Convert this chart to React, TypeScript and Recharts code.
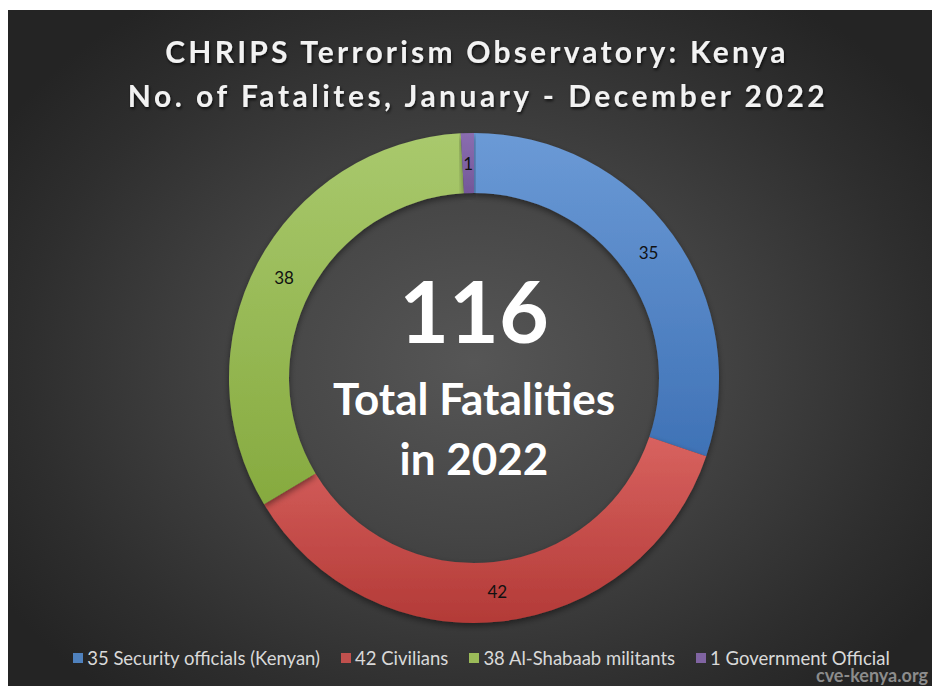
import React from 'react';
import { PieChart, Pie, Cell, Legend } from 'recharts';

const categories = ['Security officials (Kenyan)', 'Civilians', 'Al-Shabaab militants', 'Government Official'];
const fatalities = [35, 42, 38, 1];
const sliceColors = ['#4f81bd', '#c0504d', '#9bbb59', '#8064a2'];
const gradientStops = [
  ['#6b9ad6', '#3f72b6'],
  ['#d8625f', '#b33a37'],
  ['#a9c96d', '#86aa3f'],
  ['#8a6db0', '#735799'],
];

const titleLines = ['CHRIPS Terrorism Observatory: Kenya', 'No. of Fatalites, January - December 2022'];
const centerLines = ['Total Fatalities', 'in 2022'];

const total = fatalities.reduce((a, b) => a + b, 0);
const data = categories.map((name, i) => ({ name, value: fatalities[i] }));

const W = 933;
const H = 676;
const CX = 467;
const CY = 368;
const FONT = 'Lato, "Open Sans", sans-serif';

const RAD = Math.PI / 180;

function renderLabel(props: any) {
  const { cx, cy, midAngle, innerRadius, outerRadius, value } = props;
  const r = (innerRadius + outerRadius) / 2;
  const x = cx + r * Math.cos(-midAngle * RAD);
  const y = cy + r * Math.sin(-midAngle * RAD);
  return (
    <text x={x} y={y} textAnchor="middle" dominantBaseline="central" fill="#111" fontSize={17} fontFamily={FONT}>
      {value}
    </text>
  );
}

function LegendRow() {
  return (
    <div
      style={{
        display: 'flex',
        justifyContent: 'center',
        gap: 21,
        fontFamily: FONT,
        fontSize: 18.5,
        color: '#d9d9d9',
        paddingLeft: 16,
      }}
    >
      {data.map((d, i) => (
        <span key={d.name} style={{ display: 'flex', alignItems: 'center' }}>
          <span style={{ width: 10, height: 10, background: sliceColors[i], marginRight: 4, display: 'inline-block' }} />
          {d.value} {d.name}
        </span>
      ))}
    </div>
  );
}

export default function App() {
  return (
    <div
      style={{
        position: 'relative',
        width: W,
        height: H,
        marginLeft: -1,
        marginTop: 2,
        background: 'radial-gradient(ellipse 60% 65% at 50% 52%, #565656 0%, #454545 40%, #2e2e2e 80%, #242424 100%)',
      }}
    >
      <PieChart width={W} height={H} margin={{ top: 0, right: 0, bottom: 0, left: 0 }}>
        <defs>
          {gradientStops.map((g, i) => (
            <linearGradient key={i} id={`grad${i}`} x1="0" y1="0" x2="0" y2="1">
              <stop offset="0%" stopColor={g[0]} />
              <stop offset="100%" stopColor={g[1]} />
            </linearGradient>
          ))}
          <filter id="ringShadow" x="-10%" y="-10%" width="120%" height="120%">
            <feDropShadow dx="0" dy="3" stdDeviation="3" floodColor="#000" floodOpacity="0.45" />
          </filter>
          <filter id="txtShadow" x="-5%" y="-20%" width="110%" height="150%">
            <feDropShadow dx="1" dy="2" stdDeviation="1.5" floodColor="#000" floodOpacity="0.7" />
          </filter>
        </defs>
        <Pie
          data={data}
          dataKey="value"
          nameKey="name"
          cx={CX}
          cy={CY}
          innerRadius={185}
          outerRadius={245}
          startAngle={90}
          endAngle={-270}
          stroke="none"
          label={renderLabel}
          labelLine={false}
          isAnimationActive={false}
          style={{ filter: 'url(#ringShadow)' }}
        >
          {data.map((d, i) => (
            <Cell key={d.name} fill={`url(#grad${i})`} />
          ))}
        </Pie>
        <Legend
          content={() => <LegendRow />}
          wrapperStyle={{ position: 'absolute', top: 637, left: 0, width: W }}
        />
        <g filter="url(#txtShadow)" fontFamily={FONT} fontWeight={700} fill="#f2f2f2" textAnchor="middle">
          <text x={CX + 3} y={53} fontSize={30} letterSpacing={3.2}>
            {titleLines[0]}
          </text>
          <text x={CX + 4} y={97} fontSize={30} letterSpacing={3.5}>
            {titleLines[1]}
          </text>
        </g>
        <g fontFamily={FONT} fontWeight={700} fill="#ffffff" textAnchor="middle">
          <text x={CX} y={333} fontSize={86}>
            {total}
          </text>
          <text x={CX} y={405} fontSize={44}>
            {centerLines[0]}
          </text>
          <text x={CX} y={465} fontSize={44}>
            {centerLines[1]}
          </text>
        </g>
        <text x={921} y={672} textAnchor="end" fontFamily={FONT} fontSize={18} fontWeight={700} fill="#8c8c8c">
          cve-kenya.org
        </text>
      </PieChart>
    </div>
  );
}
